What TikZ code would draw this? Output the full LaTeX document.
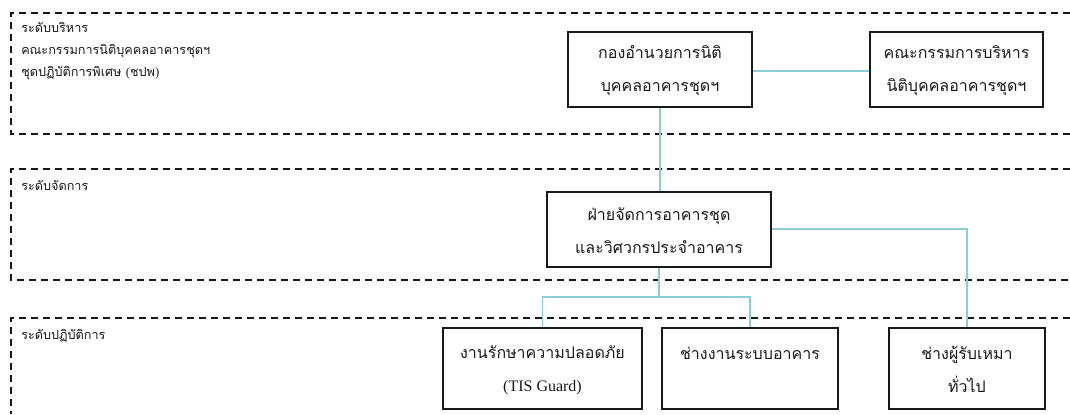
\documentclass[tikz,border=0pt]{standalone}
\usepackage{fontspec}
\newfontfamily\thai[Script=Thai]{Loma}
\newfontfamily\latn{Liberation Serif}
\usetikzlibrary{fit}
\definecolor{linkc}{RGB}{140,205,212}
\definecolor{inkc}{RGB}{25,25,25}
\begin{document}
\begin{tikzpicture}[x=0.75pt,y=-0.75pt,
  band/.style={draw=inkc, line width=0.9pt, dash pattern=on 5.5pt off 3.5pt},
  box/.style={draw=inkc, line width=1.1pt, rectangle, inner sep=0pt},
  boxtxt/.style={align=center, inner sep=0pt, text=inkc,
    font=\thai\fontsize{12}{24.75}\selectfont},
  link/.style={draw=linkc, line width=1pt},
  lbl/.style={anchor=north west, align=left, inner sep=0pt, text=inkc,
    font=\thai\fontsize{9.5}{16.5}\selectfont}]
\useasboundingbox (0,0) rectangle (1070,414);
% bands
\draw[band] (1070,13) -- (11,13) -- (11,134) -- (1070,134);
\draw[band] (1070,169) -- (11,169) -- (11,280) -- (1070,280);
\draw[band] (1070,318) -- (11,318) -- (11,414);
% labels
\node[lbl] (l1) at (21,22) {ระดับบริหาร\\คณะกรรมการนิติบุคคลอาคารชุดฯ\\ชุดปฏิบัติการพิเศษ {\latn(}ชปพ{\latn)}};
\node[lbl] (l2) at (21,180) {ระดับจัดการ};
\node[lbl] (l3) at (21,329) {ระดับปฏิบัติการ};
% boxes
\node[box, fit={(568,32)(752,107)}] (b1) {};
\node[box, fit={(870,32)(1043,107)}] (b2) {};
\node[box, fit={(547,192)(771,267)}] (m) {};
\node[box, fit={(443,328)(642,409)}] (t1) {};
\node[box, fit={(662,328)(838,409)}] (t2) {};
\node[box, fit={(889,328)(1045,409)}] (t3) {};
% box texts
\node[boxtxt] (b1t) at ([yshift=-1pt]b1.center) {กองอำนวยการนิติ\\บุคคลอาคารชุดฯ};
\node[boxtxt] (b2t) at ([yshift=-1pt]b2.center) {คณะกรรมการบริหาร\\นิติบุคคลอาคารชุดฯ};
\node[boxtxt] (mt) at ([yshift=-1pt]m.center) {ฝ่ายจัดการอาคารชุด\\และวิศวกรประจำอาคาร};
\node[boxtxt] (t1t) at ([yshift=-1pt]t1.center) {งานรักษาความปลอดภัย\\{\latn(TIS Guard)}};
\node[boxtxt] (t2t) at ([yshift=-1pt]t2.center) {ช่างงานระบบอาคาร\\\mbox{}};
\node[boxtxt] (t3t) at ([yshift=-1pt]t3.center) {ช่างผู้รับเหมา\\ทั่วไป};
% connectors
\coordinate (j) at (659,297);
\draw[link] ([yshift=-1.1pt]b1.east) -- ([yshift=-1.1pt]b2.west);
\draw[link] (b1.south) -- (b1.south |- m.north);
\draw[link] (m.south) -- (j);
\draw[link] (t1.north) |- (j) -| (t2.north);
\draw[link] ([yshift=0.375pt]m.east) -| (t3.north);
\end{tikzpicture}
\end{document}
